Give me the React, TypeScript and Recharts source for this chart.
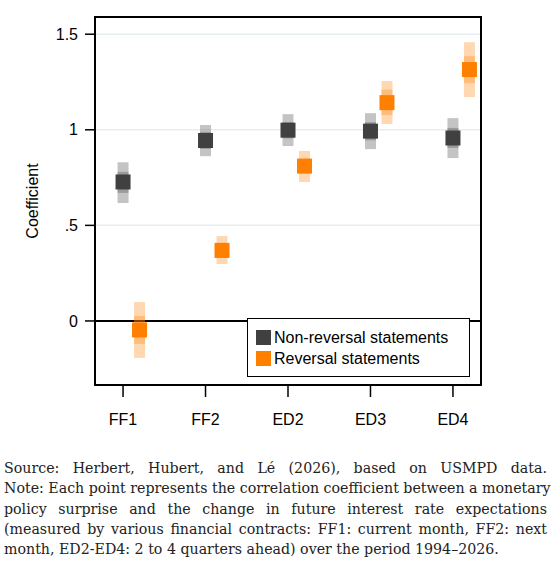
import { CartesianGrid, ErrorBar, Legend, ReferenceArea, ReferenceLine, Scatter, ScatterChart, XAxis, YAxis } from "recharts";

const categories = ["FF1", "FF2", "ED2", "ED3", "ED4"];
const categoryPos = [1, 2, 3, 4, 5];
const reversalShift = 0.2;

const nonRevCoef = [0.727, 0.944, 0.998, 0.993, 0.957];
const nonRevOuterLo = [0.617, 0.862, 0.915, 0.899, 0.852];
const nonRevOuterHi = [0.83, 1.025, 1.082, 1.087, 1.061];
const nonRevInnerLo = [0.67, 0.9, 0.955, 0.945, 0.905];
const nonRevInnerHi = [0.78, 0.99, 1.04, 1.04, 1.01];

const revCoef = [-0.047, 0.369, 0.81, 1.142, 1.315];
const revOuterLo = [-0.193, 0.298, 0.727, 1.03, 1.171];
const revOuterHi = [0.099, 0.444, 0.889, 1.255, 1.458];
const revInnerLo = [-0.12, 0.33, 0.77, 1.077, 1.244];
const revInnerHi = [0.026, 0.41, 0.85, 1.21, 1.385];

const yTicks = [0, 0.5, 1, 1.5];
const yDomain: [number, number] = [-0.335, 1.59];
const xDomain: [number, number] = [0.66, 5.34];

const captionLines = [
  "Source: Herbert, Hubert, and Lé (2026), based on USMPD data.",
  "Note: Each point represents the correlation coefficient between a monetary",
  "policy surprise and the change in future interest rate expectations",
  "(measured by various financial contracts: FF1: current month, FF2: next",
  "month, ED2-ED4: 2 to 4 quarters ahead) over the period 1994–2026.",
];

const DARK = "#404040";
const ORANGE = "#ff7f00";

const legendItems = [
  { label: "Non-reversal statements", color: DARK },
  { label: "Reversal statements", color: ORANGE },
];

function buildRows(coef: number[], oLo: number[], oHi: number[], iLo: number[], iHi: number[], shift: number) {
  return coef.map((c, i) => ({
    x: categoryPos[i] + shift,
    y: c,
    outer: [c - oLo[i], oHi[i] - c],
    inner: [c - iLo[i], iHi[i] - c],
  }));
}

const nonRevRows = buildRows(nonRevCoef, nonRevOuterLo, nonRevOuterHi, nonRevInnerLo, nonRevInnerHi, 0);
const revRows = buildRows(revCoef, revOuterLo, revOuterHi, revInnerLo, revInnerHi, reversalShift);

const square = (color: string) => (p: any) =>
  <rect x={p.cx - 7.5} y={p.cy - 7.5} width={15} height={15} fill={color} />;

const noShape = () => <g />;

function formatY(v: number) {
  if (v === 0) return "0";
  if (v === 1) return "1";
  return String(v).replace(/^0/, "");
}

function LegendBox() {
  return (
    <div
      style={{
        width: 221,
        height: 55,
        border: "1.5px solid #000",
        background: "#fff",
        boxSizing: "content-box",
        paddingTop: 2,
      }}
    >
      {legendItems.map((item) => (
        <div key={item.label} style={{ display: "flex", alignItems: "center", height: 21, marginLeft: 8, marginTop: item === legendItems[0] ? 6 : 0 }}>
          <span style={{ width: 15, height: 15, background: item.color, display: "inline-block", marginRight: 3 }} />
          <span style={{ fontSize: 16, color: "#000", lineHeight: "21px" }}>{item.label}</span>
        </div>
      ))}
    </div>
  );
}

export default function App() {
  return (
    <div style={{ position: "absolute", left: 0, top: 0, width: 552, height: 565, background: "#fff", fontFamily: '"Liberation Sans", Arial, sans-serif' }}>
      <ScatterChart width={552} height={440} margin={{ top: 17, right: 71, bottom: 0, left: 0 }}>
        <CartesianGrid horizontal vertical={false} stroke="#e6eeef" strokeWidth={1.5} />
        <ReferenceArea x1={xDomain[0]} x2={xDomain[1]} y1={yDomain[0]} y2={yDomain[1]} fill="none" stroke="#000" strokeWidth={2} />
        <ReferenceLine y={0} stroke="#000" strokeWidth={2} />
        <XAxis
          type="number"
          dataKey="x"
          domain={xDomain}
          allowDataOverflow
          ticks={categoryPos}
          tickFormatter={(v: number) => categories[v - 1]}
          axisLine={false}
          tickLine={{ stroke: "#000", strokeWidth: 1.5 }}
          tickSize={12}
          tickMargin={17}
          height={55}
          tick={{ fontSize: 16, fill: "#000" }}
        />
        <YAxis
          type="number"
          dataKey="y"
          domain={yDomain}
          allowDataOverflow
          ticks={yTicks}
          tickFormatter={formatY}
          axisLine={false}
          tickLine={{ stroke: "#000", strokeWidth: 1.5 }}
          tickSize={10}
          tickMargin={7}
          width={95}
          tick={{ fontSize: 16, fill: "#000" }}
          label={{
            content: (props: any) => {
              const vb = props.viewBox;
              const x = vb.x + 38;
              const y = vb.y + vb.height / 2;
              return (
                <text x={x} y={y} textAnchor="middle" fontSize={16} fill="#000" transform={`rotate(-90, ${x}, ${y})`}>
                  Coefficient
                </text>
              );
            },
          }}
        />
        <Scatter data={nonRevRows} shape={noShape} isAnimationActive={false}>
          <ErrorBar dataKey="outer" direction="y" width={0} stroke={DARK} strokeOpacity={0.31} strokeWidth={11} isAnimationActive={false} />
          <ErrorBar dataKey="inner" direction="y" width={0} stroke={DARK} strokeOpacity={0.31} strokeWidth={11} isAnimationActive={false} />
        </Scatter>
        <Scatter data={revRows} shape={noShape} isAnimationActive={false}>
          <ErrorBar dataKey="outer" direction="y" width={0} stroke={ORANGE} strokeOpacity={0.3} strokeWidth={11} isAnimationActive={false} />
          <ErrorBar dataKey="inner" direction="y" width={0} stroke={ORANGE} strokeOpacity={0.3} strokeWidth={11} isAnimationActive={false} />
        </Scatter>
        <Scatter name="Non-reversal statements" data={nonRevRows} shape={square(DARK)} isAnimationActive={false} />
        <Scatter name="Reversal statements" data={revRows} shape={square(ORANGE)} isAnimationActive={false} />
        <Legend
          layout="vertical"
          align="center"
          verticalAlign="middle"
          content={() => <LegendBox />}
          wrapperStyle={{ left: 247, top: 318, width: 225, height: 60 }}
        />
      </ScatterChart>
      <div
        style={{
          position: "absolute",
          left: 4,
          top: 458,
          width: 543,
          fontFamily: '"DejaVu Serif", serif',
          fontSize: 14.2,
          lineHeight: "20.3px",
          color: "#222",
        }}
      >
        {captionLines.map((line, i) => (
          <div
            key={i}
            style={{
              whiteSpace: "nowrap",
              textAlign: "justify",
              textAlignLast: i < captionLines.length - 1 ? "justify" : "left",
            }}
          >
            {line}
          </div>
        ))}
      </div>
    </div>
  );
}
